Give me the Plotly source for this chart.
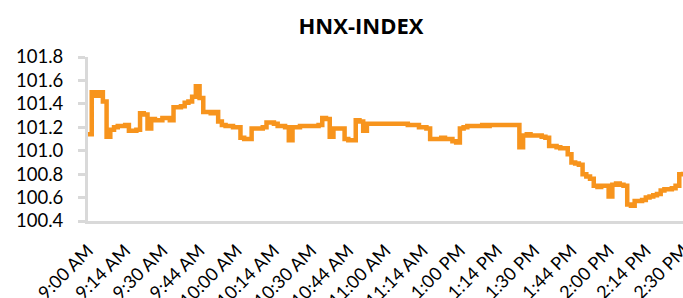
import plotly.graph_objects as go

# HNX-INDEX intraday values, 161 samples
index_values = [
    101.14, 101.50, 101.47, 101.50, 101.42, 101.12, 101.18, 101.20, 101.21, 101.21,
    101.22, 101.17, 101.17, 101.18, 101.32, 101.31, 101.19, 101.27, 101.26, 101.26,
    101.28, 101.28, 101.26, 101.37, 101.37, 101.38, 101.41, 101.42, 101.46, 101.55,
    101.45, 101.33, 101.33, 101.32, 101.33, 101.25, 101.22, 101.21, 101.21, 101.20,
    101.20, 101.11, 101.10, 101.10, 101.19, 101.19, 101.19, 101.20, 101.24, 101.24,
    101.23, 101.21, 101.21, 101.20, 101.09, 101.20, 101.20, 101.21, 101.21, 101.21,
    101.21, 101.21, 101.22, 101.28, 101.27, 101.12, 101.19, 101.19, 101.19, 101.10,
    101.09, 101.09, 101.26, 101.25, 101.17, 101.23, 101.23, 101.23, 101.23, 101.23,
    101.23, 101.23, 101.23, 101.23, 101.23, 101.23, 101.22, 101.22, 101.22, 101.20,
    101.20, 101.19, 101.10, 101.10, 101.10, 101.11, 101.10, 101.10, 101.08, 101.07,
    101.19, 101.20, 101.21, 101.21, 101.21, 101.21, 101.22, 101.21, 101.22, 101.22,
    101.22, 101.22, 101.22, 101.22, 101.22, 101.22, 101.03, 101.13, 101.14, 101.13,
    101.13, 101.13, 101.12, 101.11, 101.04, 101.04, 101.03, 101.02, 101.02, 100.97,
    100.90, 100.89, 100.88, 100.80, 100.78, 100.76, 100.70, 100.69, 100.70, 100.70,
    100.61, 100.71, 100.72, 100.71, 100.70, 100.54, 100.53, 100.57, 100.57, 100.58,
    100.60, 100.61, 100.62, 100.63, 100.66, 100.67, 100.67, 100.68, 100.70, 100.80,
    100.82,
]

tick_labels = [
    "9:00 AM", "9:14 AM", "9:30 AM", "9:44 AM", "10:00 AM", "10:14 AM",
    "10:30 AM", "10:44 AM", "11:00 AM", "11:14 AM", "1:00 PM", "1:14 PM",
    "1:30 PM", "1:44 PM", "2:00 PM", "2:14 PM", "2:30 PM",
]

y_ticks = [100.4, 100.6, 100.8, 101.0, 101.2, 101.4, 101.6, 101.8]

n = len(index_values)
step = (n - 1) // (len(tick_labels) - 1)
x_idx = list(range(n))
tick_pos = [i * step for i in range(len(tick_labels))]

fig = go.Figure()
fig.add_trace(go.Scatter(
    x=x_idx, y=index_values, mode="lines",
    line=dict(color="#F7941D", width=4.5, shape="hv"),
    showlegend=False, hoverinfo="skip",
))

fig.update_layout(
    template="none",
    width=683, height=298,
    paper_bgcolor="white", plot_bgcolor="white",
    margin=dict(l=88, r=0, t=57, b=77),
    font=dict(family="Lato", color="black"),
    title=dict(
        text="<b>HNX-INDEX</b>",
        x=361 / 683, xref="container", xanchor="center",
        y=1 - 26 / 298, yref="container", yanchor="middle",
        font=dict(family="Open Sans", size=22, color="black"),
    ),
    xaxis=dict(
        range=[0, n - 1],
        tickmode="array", tickvals=tick_pos, ticktext=tick_labels,
        tickangle=-45, tickfont=dict(size=18, family="Lato", color="black"),
        showgrid=False, zeroline=False,
        showline=True, linecolor="#D9D9D9", linewidth=3,
        ticks="", automargin=False, ticklabelstandoff=9,
        ticklabeloverflow="allow",
    ),
    yaxis=dict(
        range=[100.4, 101.8],
        tickmode="array", tickvals=y_ticks, tickformat=".1f",
        tickfont=dict(size=18.5, family="Lato", color="black"),
        showgrid=False, zeroline=False,
        showline=True, linecolor="#D9D9D9", linewidth=3,
        ticks="outside", ticklen=7, tickwidth=3, tickcolor="#D9D9D9",
        automargin=False, ticklabelstandoff=11,
    ),
)

fig.write_html(
    "out.html",
    config={"displayModeBar": False, "staticPlot": True},
    post_script="document.body.style.margin='0';document.body.style.overflow='hidden';",
)
